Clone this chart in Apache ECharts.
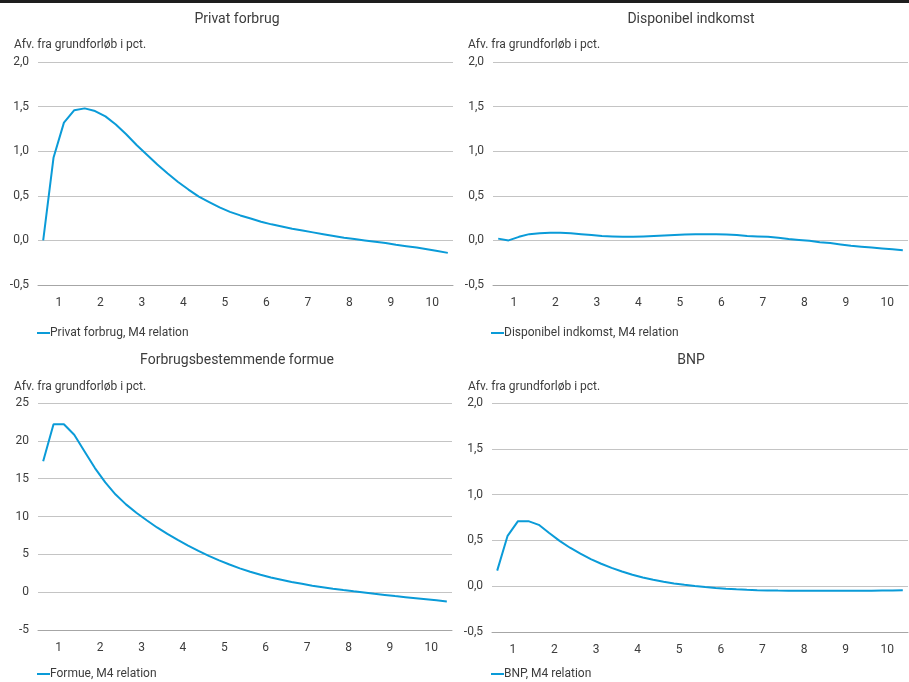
<!DOCTYPE html>
<html>
<head>
<meta charset="utf-8">
<script src="https://cdn.jsdelivr.net/npm/echarts@6/dist/echarts.min.js"></script>
<style>
  html, body { margin: 0; padding: 0; background: #fff; }
  #chart { width: 909px; height: 682px; }
</style>
</head>
<body>
<div id="chart"></div>
<script>
  // år på x-aksen, 4 kvartaler pr. år
  const years = ['1', '2', '3', '4', '5', '6', '7', '8', '9', '10'];
  const quarters = years.flatMap(y => ['K1', 'K2', 'K3', 'K4'].map(k => y + k));

  const privatForbrug = [
    0.00, 0.93, 1.32, 1.46, 1.48, 1.45, 1.39, 1.30, 1.19, 1.07,
    0.96, 0.85, 0.75, 0.655, 0.57, 0.49, 0.43, 0.37, 0.32, 0.28,
    0.245, 0.21, 0.18, 0.155, 0.13, 0.11, 0.09, 0.07, 0.05, 0.03,
    0.015, 0.00, -0.015, -0.03, -0.05, -0.065, -0.08, -0.10, -0.12, -0.14
  ];
  const dispIndkomst = [
    0.02, 0.00, 0.04, 0.07, 0.08, 0.085, 0.085, 0.08, 0.07, 0.06,
    0.05, 0.045, 0.04, 0.04, 0.045, 0.05, 0.055, 0.06, 0.065, 0.07,
    0.07, 0.07, 0.065, 0.06, 0.05, 0.045, 0.04, 0.03, 0.015, 0.005,
    -0.005, -0.02, -0.03, -0.045, -0.06, -0.07, -0.08, -0.09, -0.10, -0.11
  ];
  const formue = [
    17.3, 22.2, 22.2, 20.8, 18.6, 16.4, 14.5, 12.9, 11.6, 10.5,
    9.5, 8.55, 7.7, 6.9, 6.15, 5.45, 4.8, 4.2, 3.65, 3.15,
    2.7, 2.3, 1.95, 1.65, 1.35, 1.1, 0.85, 0.65, 0.45, 0.28,
    0.12, -0.03, -0.2, -0.36, -0.52, -0.66, -0.8, -0.94, -1.08, -1.22
  ];
  const bnp = [
    0.17, 0.55, 0.71, 0.71, 0.67, 0.58, 0.495, 0.42, 0.355, 0.295,
    0.245, 0.20, 0.16, 0.125, 0.095, 0.07, 0.048, 0.03, 0.015, 0.002,
    -0.01, -0.02, -0.028, -0.034, -0.039, -0.043, -0.046, -0.048, -0.049, -0.05,
    -0.05, -0.05, -0.05, -0.05, -0.05, -0.05, -0.049, -0.048, -0.047, -0.045
  ];

  const panels = [
    { title: 'Privat forbrug', name: 'Privat forbrug, M4 relation', data: privatForbrug,
      min: -0.5, max: 2, interval: 0.5, dec: 1,
      grid: { left: 38, top: 62, width: 415, height: 223 }, tx: 232, ty: 7, sx: 9, sy: 34, ly: 322 },
    { title: 'Disponibel indkomst', name: 'Disponibel indkomst, M4 relation', data: dispIndkomst,
      min: -0.5, max: 2, interval: 0.5, dec: 1,
      grid: { left: 493, top: 62, width: 415, height: 223 }, tx: 686, ty: 7, sx: 463, sy: 34, ly: 322 },
    { title: 'Forbrugsbestemmende formue', name: 'Formue, M4 relation', data: formue,
      min: -5, max: 25, interval: 5, dec: 0,
      grid: { left: 38, top: 403, width: 414, height: 227 }, tx: 232, ty: 348, sx: 9, sy: 376, ly: 663 },
    { title: 'BNP', name: 'BNP, M4 relation', data: bnp,
      min: -0.5, max: 2, interval: 0.5, dec: 1,
      grid: { left: 492, top: 403, width: 416, height: 229 }, tx: 686, ty: 348, sx: 463, sy: 376, ly: 663 }
  ];

  const font = 'Roboto, "Open Sans", sans-serif';
  const blue = '#0a9bd8';
  const txt = '#3c3c3c';

  const chart = echarts.init(document.getElementById('chart'));

  let option = {
    animation: false,
    backgroundColor: '#fff',
    textStyle: { fontFamily: font },
    graphic: [
      { type: 'rect', shape: { x: 0, y: 0, width: 909, height: 3 }, style: { fill: '#1e1e1e' } }
    ],
    title: [],
    grid: [],
    xAxis: [],
    yAxis: [],
    legend: [],
    series: []
  };

  panels.forEach((p, i) => {
    option.title.push({
      text: p.title, left: p.tx, top: p.ty, textAlign: 'center',
      textStyle: { fontFamily: font, fontSize: 14, fontWeight: 'normal', color: txt }
    });
    option.title.push({
      text: 'Afv. fra grundforløb i pct.', left: p.sx, top: p.sy,
      textStyle: { fontFamily: font, fontSize: 12, fontWeight: 'normal', color: txt }
    });
    option.grid.push(p.grid);
    // synlig årsakse
    option.xAxis.push({
      type: 'category', gridIndex: i, data: years, boundaryGap: true,
      axisLine: { onZero: false, lineStyle: { color: '#a6a6a6', width: 1 } },
      axisTick: { inside: true, length: 4, lineStyle: { color: '#a6a6a6' } },
      axisLabel: { color: txt, fontSize: 12, margin: 12, fontFamily: font },
      splitLine: { show: false }
    });
    // skjult kvartalsakse til data
    option.xAxis.push({
      type: 'category', gridIndex: i, data: quarters, boundaryGap: true, show: false
    });
    option.yAxis.push({
      type: 'value', gridIndex: i, min: p.min, max: p.max, interval: p.interval,
      axisLine: { show: false }, axisTick: { show: false },
      axisLabel: {
        color: txt, fontSize: 12, margin: 9, fontFamily: font,
        formatter: v => v.toFixed(p.dec).replace('.', ',')
      },
      splitLine: { lineStyle: { color: '#c4c4c4', width: 1 } }
    });
    option.legend.push({
      data: [p.name], left: p.sx + 23, top: p.ly,
      icon: 'rect', itemWidth: 13, itemHeight: 2,
      textStyle: { fontFamily: font, fontSize: 12, color: txt, padding: [0, 0, 0, -5] }
    });
    option.series.push({
      name: p.name, type: 'line', xAxisIndex: i * 2 + 1, yAxisIndex: i,
      data: p.data, showSymbol: false, symbol: 'none',
      lineStyle: { color: blue, width: 2 }, itemStyle: { color: blue }
    });
  });

  chart.setOption(option);
</script>
</body>
</html>
